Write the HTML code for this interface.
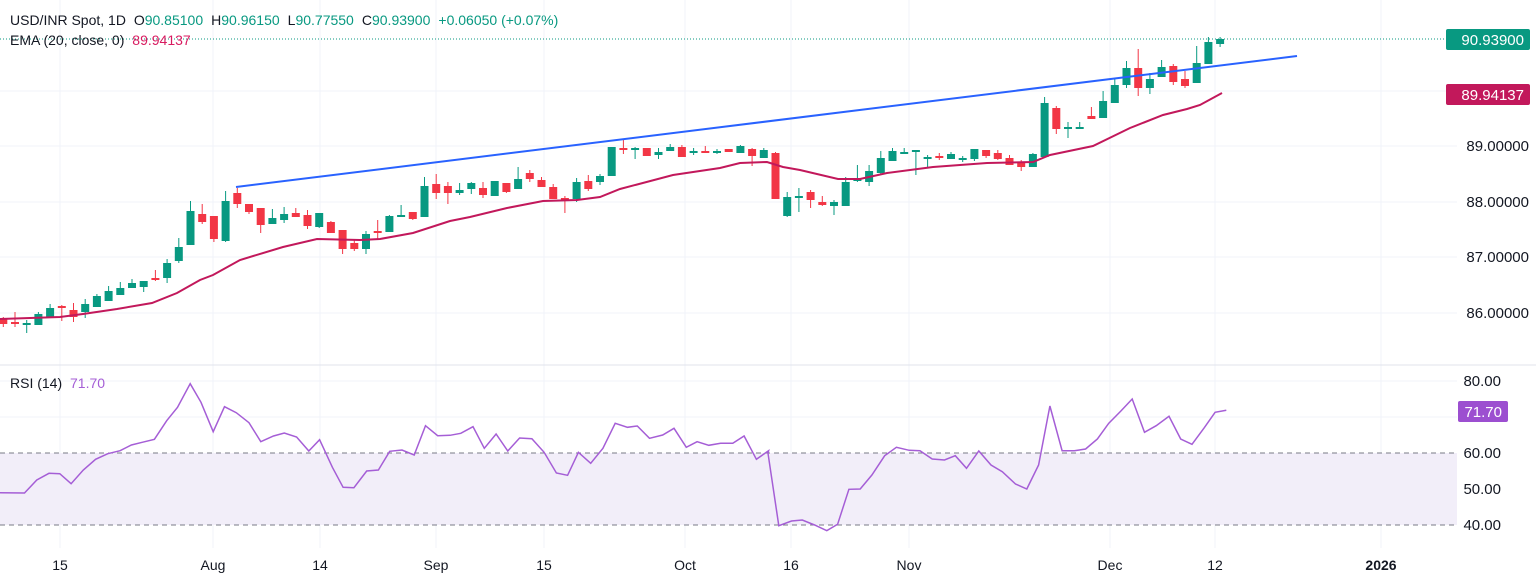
<!DOCTYPE html>
<html><head><meta charset="utf-8"><style>
body{margin:0;background:#fff;width:1536px;height:581px;overflow:hidden;font-family:"Liberation Sans",sans-serif}
svg{display:block}
</style></head><body>
<svg id="s" width="1536" height="581" xmlns="http://www.w3.org/2000/svg" font-family="Liberation Sans, sans-serif">
<rect width="1536" height="581" fill="#fff"/>
<g id="grid" stroke="#f0f3fa" stroke-width="1"></g>
<rect x="0" y="453" width="1457" height="72" fill="#f2eef9"/>
<line x1="0" y1="453" x2="1457" y2="453" stroke="#787b86" stroke-dasharray="5,4"/>
<line x1="0" y1="525" x2="1457" y2="525" stroke="#787b86" stroke-dasharray="5,4"/>
<line x1="0" y1="365" x2="1536" y2="365" stroke="#e0e3eb"/>
<line x1="0" y1="39" x2="1457" y2="39" stroke="#089981" stroke-dasharray="1,2"/>
<g id="candles"></g>
<polyline id="ema" fill="none" stroke="#c2185b" stroke-width="2"/>
<line x1="236" y1="187" x2="1297" y2="56" stroke="#2962ff" stroke-width="2"/>
<polyline id="rsi" fill="none" stroke="#a55ed6" stroke-width="1.5"/>
<g font-size="14" fill="#131722">
<text x="10" y="25">USD/INR Spot, 1D <tspan dx="4">O</tspan><tspan fill="#089981">90.85100</tspan><tspan dx="8">H</tspan><tspan fill="#089981">90.96150</tspan><tspan dx="8">L</tspan><tspan fill="#089981">90.77550</tspan><tspan dx="8">C</tspan><tspan fill="#089981">90.93900</tspan><tspan dx="8" fill="#089981">+0.06050 (+0.07%)</tspan></text>
<text x="10" y="45">EMA (20, close, 0) <tspan dx="4" fill="#d81b60">89.94137</tspan></text>
<text x="10" y="388">RSI (14) <tspan dx="4" fill="#a55ed6">71.70</tspan></text>
</g>
<g font-size="15" fill="#131722" text-anchor="end">
<text x="1529" y="151">89.00000</text>
<text x="1529" y="207">88.00000</text>
<text x="1529" y="262">87.00000</text>
<text x="1529" y="318">86.00000</text>
<text x="1501" y="386">80.00</text>
<text x="1501" y="458">60.00</text>
<text x="1501" y="494">50.00</text>
<text x="1501" y="530">40.00</text>
</g>
<rect x="1446" y="29" width="84" height="21" rx="2" fill="#089981"/>
<text x="1524" y="45" font-size="15" fill="#fff" text-anchor="end">90.93900</text>
<rect x="1446" y="84" width="84" height="21" rx="2" fill="#c2185b"/>
<text x="1524" y="100" font-size="15" fill="#fff" text-anchor="end">89.94137</text>
<rect x="1458" y="401" width="50" height="21" rx="2" fill="#9c4fd0"/>
<text x="1502" y="417" font-size="15" fill="#fff" text-anchor="end">71.70</text>
<g font-size="14" fill="#131722" text-anchor="middle">
<text x="60" y="570">15</text><text x="213" y="570">Aug</text><text x="320" y="570">14</text>
<text x="436" y="570">Sep</text><text x="544" y="570">15</text><text x="685" y="570">Oct</text>
<text x="791" y="570">16</text><text x="909" y="570">Nov</text><text x="1110" y="570">Dec</text>
<text x="1215" y="570">12</text><text x="1381" y="570" font-weight="bold">2026</text>
</g>
</svg>
<script>
var NS="http://www.w3.org/2000/svg";
function el(p,t,a){var e=document.createElementNS(NS,t);for(var k in a)e.setAttribute(k,a[k]);p.appendChild(e);return e;}
var g=document.getElementById('grid');
[60,213,320,436,544,685,791,909,1110,1215,1381].forEach(function(x){el(g,'line',{x1:x,y1:0,x2:x,y2:548});});
[91,146,202,257,313,381,417,489].forEach(function(y){el(g,'line',{x1:0,y1:y,x2:1457,y2:y});});
// [i, green?, bodyTop, bodyBot, wickTop, wickBot]
var C=[[0,0,318,324,317,327],[1,0,322,324,312,327],[2,1,323,325,320,333],[3,1,314,325,312,325],[4,1,308,317,304,317],
[5,0,306,308,305,321],[6,0,310,317,303,322],[7,1,304,312,299,318],[8,1,296,307,294,307],[9,1,291,301,286,301],
[10,1,288,295,282,295],[11,1,283,288,279,288],[12,1,281,287,281,292],[13,0,278,280,270,281],[14,1,263,278,259,283],
[15,1,247,261,238,263],[16,1,211,245,201,245],[17,0,214,222,204,224],[18,0,216,239,216,242],[19,1,201,241,191,242],
[20,0,193,204,188,208],[21,0,204,212,204,214],[22,0,208,225,208,233],[23,1,218,224,209,224],[24,1,214,220,207,223],
[25,0,213,217,208,217],[26,0,215,226,210,229],[27,1,213,227,213,228],[28,0,222,233,221,233],[29,0,230,249,230,254],
[30,0,243,249,239,251],[31,1,234,249,231,254],[32,0,231,233,220,239],[33,1,216,232,215,232],[34,1,215,217,205,217],
[35,0,212,219,212,220],[36,1,186,217,177,217],[37,0,184,193,174,199],[38,0,186,193,182,204],[39,1,190,193,183,195],
[40,1,183,189,182,194],[41,0,188,195,182,198],[42,1,181,196,181,196],[43,0,183,192,183,193],[44,1,179,189,167,189],
[45,0,173,179,170,182],[46,0,180,187,177,187],[47,0,187,199,184,199],[48,0,198,200,196,213],[49,1,182,199,178,202],
[50,0,181,189,175,191],[51,1,176,182,174,185],[52,1,147,176,147,176],[53,0,148,150,140,154],[54,1,148,150,147,159],
[55,0,148,156,148,156],[56,1,152,155,148,159],[57,1,147,151,144,151],[58,0,147,157,145,157],[59,1,151,153,148,155],
[60,0,151,153,146,153],[61,1,151,153,149,154],[62,0,149,152,149,152],[63,1,146,153,145,153],[64,0,149,156,148,166],
[65,1,150,158,148,158],[66,0,153,199,152,199],[67,1,197,216,192,217],[68,1,196,198,188,212],[69,0,192,200,190,208],
[70,0,202,205,196,206],[71,1,202,206,200,215],[72,1,182,206,177,206],[73,1,179,181,165,182],[74,1,171,182,165,186],
[75,1,158,173,151,175],[76,1,151,161,148,161],[77,1,152,154,148,154],[78,1,150,152,150,175],[79,1,157,159,155,168],
[80,0,156,158,153,160],[81,1,154,159,152,159],[82,1,158,160,156,162],[83,1,149,159,149,161],[84,0,150,156,150,158],
[85,0,153,159,150,160],[86,0,158,165,155,165],[87,0,162,167,160,171],[88,1,154,167,153,167],[89,1,103,157,97,157],
[90,0,108,129,106,134],[91,1,127,129,122,138],[92,1,127,129,122,129],[93,0,116,119,107,119],[94,1,101,118,91,118],
[95,1,85,103,78,103],[96,1,68,85,61,88],[97,0,68,88,49,96],[98,1,79,88,73,94],[99,1,67,77,60,77],
[100,0,66,82,64,85],[101,0,79,86,71,88],[102,1,63,83,46,83],[103,1,42,64,37,64],[104,1,39,44,37,47]];
var cg=document.getElementById('candles');
C.forEach(function(c){var x=3.3+c[0]*11.7,col=c[1]?'#089981':'#f23645';
el(cg,'line',{x1:x,y1:c[4],x2:x,y2:c[5],stroke:col,'stroke-width':1});
var h=Math.max(c[3]-c[2],1.5);el(cg,'rect',{x:x-4,y:c[2],width:8,height:h,fill:col});});
var E=[[0,319],[60,317],[83,314],[117,309],[152,303],[177,293],[200,280],[213,275],[240,260],[283,247],[317,239],[360,240],[380,239],[413,233],[450,221],[470,217],[507,208],[543,201],[577,200],[600,197],[620,189],[673,175],[720,168],[740,163],[767,162],[783,167],[800,170],[838,179],[860,179],[887,173],[933,167],[987,163],[1033,162],[1050,155],[1093,146],[1130,128],[1163,115],[1187,109],[1200,105],[1222,93]];
document.getElementById('ema').setAttribute('points',E.map(function(p){return p.join(',')}).join(' '));
var R1=[[0,383],[50,384],[75,345],[100,325],[122,326],[145,356],[170,315],[195,283],[220,266],[245,257],[268,240],[290,232],[315,223],[340,167],[362,127],[388,56],[410,112],[435,200],[458,125],[482,143],[508,173],[532,230],[558,213],[580,204],[605,216],[630,258],[652,224],[678,307],[700,367],[722,368],[748,318],[772,315],[795,259],[820,255],[845,270],[868,182],[893,212],[918,211],[940,205],[965,185],[988,250],[1012,207],[1036,258],[1060,219],[1085,221],[1110,262],[1135,324],[1158,331],[1180,262],[1205,295],[1230,250],[1255,175],[1280,187],[1300,183],[1325,220],[1352,210],[1375,190],[1400,247],[1422,230],[1446,241],[1470,235],[1495,235],[1518,213],[1543,283],[1568,257]];
var R2=[[0,265],[22,482],[48,468],[70,465],[95,480],[120,497],[142,478],[165,373],[188,372],[212,330],[238,272],[262,247],[288,256],[310,257],[335,282],[360,285],[382,272],[405,310],[430,258],[455,300],[478,320],[505,357],[528,372],[552,300],[575,123],[600,257],[625,257],[648,252],[672,222],[695,175],[720,138],[743,102],[768,202],[792,182],[818,154],[842,222],[865,238],[890,188],[912,142],[935,136]];
var pts=R1.map(function(p){return (p[0]/2.04).toFixed(1)+','+(365+p[1]/3).toFixed(1)}).concat(R2.map(function(p){return (768+p[0]/2.04).toFixed(1)+','+(365+p[1]/3).toFixed(1)}));
document.getElementById('rsi').setAttribute('points',pts.join(' '));
</script>
</body></html>
